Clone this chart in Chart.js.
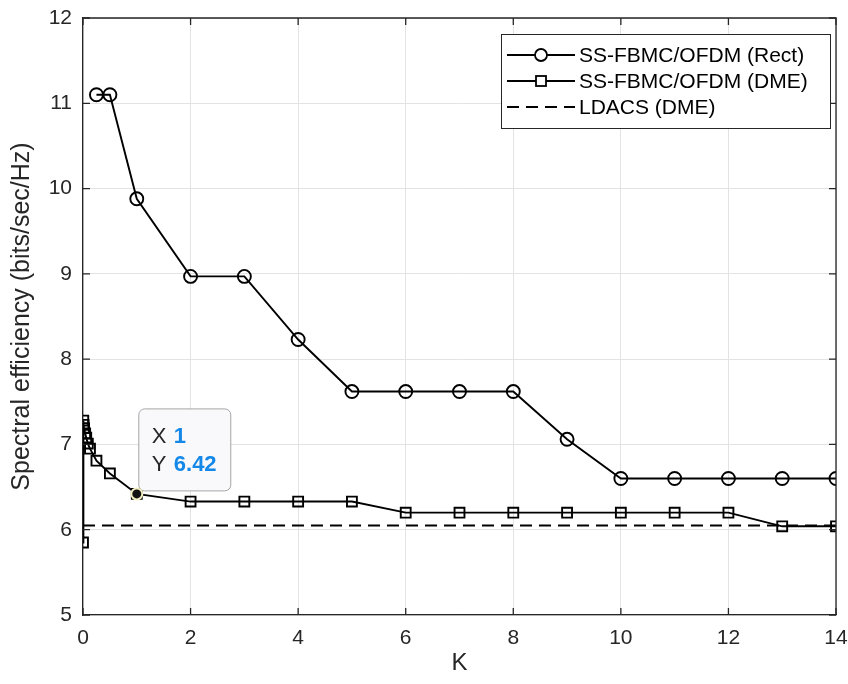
<!DOCTYPE html>
<html>
<head>
<meta charset="utf-8">
<script src="https://cdn.jsdelivr.net/npm/chart.js@4/dist/chart.umd.min.js"></script>
<style>
  html, body { margin: 0; padding: 0; background: #fff; }
  #wrap { width: 848px; height: 684px; position: relative; }
</style>
</head>
<body>
<div id="wrap"><canvas id="chart"></canvas></div>
<script>
"use strict";

const kRect = [0.25, 0.5, 1, 2, 3, 4, 5, 6, 7, 8, 9, 10, 11, 12, 13, 14];
const rectValues = [11.1, 11.1, 9.88, 8.97, 8.97, 8.23, 7.62, 7.62, 7.62, 7.62, 7.06, 6.6, 6.6, 6.6, 6.6, 6.6];

const kDme = [0, 0.005, 0.01, 0.02, 0.04, 0.06, 0.09, 0.13, 0.25, 0.5, 1, 2, 3, 4, 5, 6, 7, 8, 9, 10, 11, 12, 13, 14];
const dmeValues = [5.85, 7.28, 7.23, 7.19, 7.13, 7.08, 7.01, 6.95, 6.81, 6.66, 6.42, 6.33, 6.33, 6.33, 6.33, 6.2, 6.2, 6.2, 6.2, 6.2, 6.2, 6.2, 6.04, 6.04];

const kLdacs = [0, 14];
const ldacsValues = [6.05, 6.05];

const xTicks = [0, 2, 4, 6, 8, 10, 12, 14];
const yTicks = [5, 6, 7, 8, 9, 10, 11, 12];

const seriesNames = ['SS-FBMC/OFDM (Rect)', 'SS-FBMC/OFDM (DME)', 'LDACS (DME)'];
const tipX = 1;
const tipY = 6.42;

const FONT = '"Liberation Sans", Arial, Helvetica, sans-serif';
const AXIS = '#262626';

function points(xs, ys) {
  return xs.map((x, i) => ({ x: x, y: ys[i] }));
}

// box, inward ticks, legend and data tip, like the original figure
const decorations = {
  id: 'decorations',
  afterDraw(chart) {
    const ctx = chart.ctx;
    const a = chart.chartArea;
    const xs = chart.scales.x;
    const ys = chart.scales.y;

    ctx.save();
    ctx.strokeStyle = AXIS;
    ctx.lineWidth = 1.3;
    ctx.beginPath();
    ctx.moveTo(a.left, a.top);
    ctx.lineTo(a.right, a.top);
    ctx.lineTo(a.right, a.bottom);
    ctx.stroke();

    const tl = 7;
    ctx.beginPath();
    xTicks.forEach(v => {
      const px = xs.getPixelForValue(v);
      ctx.moveTo(px, a.bottom); ctx.lineTo(px, a.bottom - tl);
      ctx.moveTo(px, a.top); ctx.lineTo(px, a.top + tl);
    });
    yTicks.forEach(v => {
      const py = ys.getPixelForValue(v);
      ctx.moveTo(a.left, py); ctx.lineTo(a.left + tl, py);
      ctx.moveTo(a.right, py); ctx.lineTo(a.right - tl, py);
    });
    ctx.stroke();

    // legend
    const lx = 501, ly = 34, lw = 329, lh = 94;
    ctx.fillStyle = '#fff';
    ctx.fillRect(lx, ly, lw, lh);
    ctx.lineWidth = 1;
    ctx.strokeStyle = AXIS;
    ctx.strokeRect(lx + 0.5, ly + 0.5, lw, lh);

    const rows = [55, 81, 107];
    chart.data.datasets.forEach((ds, i) => {
      const y = rows[i];
      ctx.strokeStyle = '#000';
      ctx.lineWidth = 1.8;
      ctx.setLineDash(ds.borderDash || []);
      ctx.beginPath();
      ctx.moveTo(507, y);
      ctx.lineTo(575, y);
      ctx.stroke();
      ctx.setLineDash([]);
      if (ds.pointRadius > 0) {
        ctx.fillStyle = '#fff';
        ctx.lineWidth = 1.8;
        if (ds.pointStyle === 'rect') {
          ctx.fillRect(536, y - 5, 10, 10);
          ctx.strokeRect(536, y - 5, 10, 10);
        } else {
          ctx.beginPath();
          ctx.arc(541, y, 6, 0, Math.PI * 2);
          ctx.fill();
          ctx.stroke();
        }
      }
      ctx.fillStyle = '#000';
      ctx.font = '21px ' + FONT;
      ctx.textBaseline = 'middle';
      ctx.textAlign = 'left';
      ctx.fillText(seriesNames[i], 579, y + 1);
    });

    // data tip
    const meta = chart.getDatasetMeta(1);
    const idx = kDme.indexOf(tipX);
    const el = meta.data[idx];
    const px = el.x, py = el.y;

    const bx = px + 2, by = py - 85, bw = 92, bh = 82, r = 6;
    ctx.beginPath();
    ctx.moveTo(bx + r, by);
    ctx.arcTo(bx + bw, by, bx + bw, by + bh, r);
    ctx.arcTo(bx + bw, by + bh, bx, by + bh, r);
    ctx.arcTo(bx, by + bh, bx, by, r);
    ctx.arcTo(bx, by, bx + bw, by, r);
    ctx.closePath();
    ctx.fillStyle = '#f9f9fb';
    ctx.fill();
    ctx.strokeStyle = '#a6a6a6';
    ctx.lineWidth = 1;
    ctx.stroke();

    ctx.textBaseline = 'middle';
    ctx.font = '22px ' + FONT;
    ctx.fillStyle = '#262626';
    ctx.fillText('X', bx + 13, by + 28);
    ctx.fillText('Y', bx + 13, by + 56);
    ctx.font = 'bold 22px ' + FONT;
    ctx.fillStyle = '#1488e8';
    ctx.fillText(String(tipX), bx + 35, by + 28);
    ctx.fillText(tipY.toFixed(2), bx + 35, by + 56);

    ctx.beginPath();
    ctx.arc(px, py, 6.5, 0, Math.PI * 2);
    ctx.fillStyle = '#f3efc2';
    ctx.fill();
    ctx.beginPath();
    ctx.arc(px, py, 4.5, 0, Math.PI * 2);
    ctx.fillStyle = '#111';
    ctx.fill();
    ctx.restore();
  }
};

class EfficiencyChart {

  #rendered;

  #datasets() {
    return [
      {
        label: seriesNames[0],
        data: points(kRect, rectValues),
        borderColor: '#000',
        borderWidth: 1.9,
        pointStyle: 'circle',
        pointRadius: 6.5,
        pointBorderWidth: 1.9,
        pointBorderColor: '#000',
        pointBackgroundColor: 'rgba(0,0,0,0)',
        showLine: true,
        tension: 0,
      },
      {
        label: seriesNames[1],
        data: points(kDme, dmeValues),
        borderColor: '#000',
        borderWidth: 1.9,
        pointStyle: 'rect',
        pointRadius: 7,
        pointBorderWidth: 1.9,
        pointBorderColor: '#000',
        pointBackgroundColor: 'rgba(0,0,0,0)',
        showLine: true,
        tension: 0,
      },
      {
        label: seriesNames[2],
        data: points(kLdacs, ldacsValues),
        borderColor: '#000',
        borderWidth: 1.9,
        borderDash: [12, 7],
        pointRadius: 0,
        showLine: true,
        tension: 0,
      },
    ];
  }

  #options() {
    return {
      responsive: true,
      maintainAspectRatio: false,
      animation: false,
      layout: { padding: { top: 18, right: 12, left: 0, bottom: 0 } },
      plugins: {
        legend: { display: false },
        tooltip: { enabled: false },
      },
      scales: {
        x: {
          type: 'linear',
          min: 0,
          max: 14,
          afterBuildTicks: s => { s.ticks = xTicks.map(v => ({ value: v })); },
          afterFit: s => { s.height = 69; s.paddingLeft = 0; s.paddingRight = 0; },
          ticks: { color: AXIS, font: { family: FONT, size: 21 }, padding: 11, maxRotation: 0 },
          grid: { color: '#e3e3e3', drawTicks: false },
          border: { color: AXIS, width: 1.3 },
          title: { display: true, text: 'K', color: AXIS, font: { family: FONT, size: 24 }, padding: { top: 0, bottom: 6 } },
        },
        y: {
          type: 'linear',
          min: 5,
          max: 12,
          afterBuildTicks: s => { s.ticks = yTicks.map(v => ({ value: v })); },
          afterFit: s => { s.width = 83; s.paddingTop = 0; s.paddingBottom = 0; },
          ticks: { color: AXIS, font: { family: FONT, size: 21 }, padding: 11 },
          grid: { color: '#e3e3e3', drawTicks: false },
          border: { color: AXIS, width: 1.3 },
          title: { display: true, text: 'Spectral efficiency (bits/sec/Hz)', color: AXIS, font: { family: FONT, size: 25 }, padding: { top: 7, bottom: 0 } },
        },
      },
    };
  }

  #config() {
    return {
      type: 'scatter',
      data: { datasets: this.#datasets() },
      options: this.#options(),
      plugins: [decorations],
    };
  }

  render(container) {
    if (this.#rendered) {
      this.#rendered.destroy();
    }
    this.#rendered = new Chart(document.getElementById(container), this.#config());
  }
}

new EfficiencyChart().render('chart');
</script>
</body>
</html>
